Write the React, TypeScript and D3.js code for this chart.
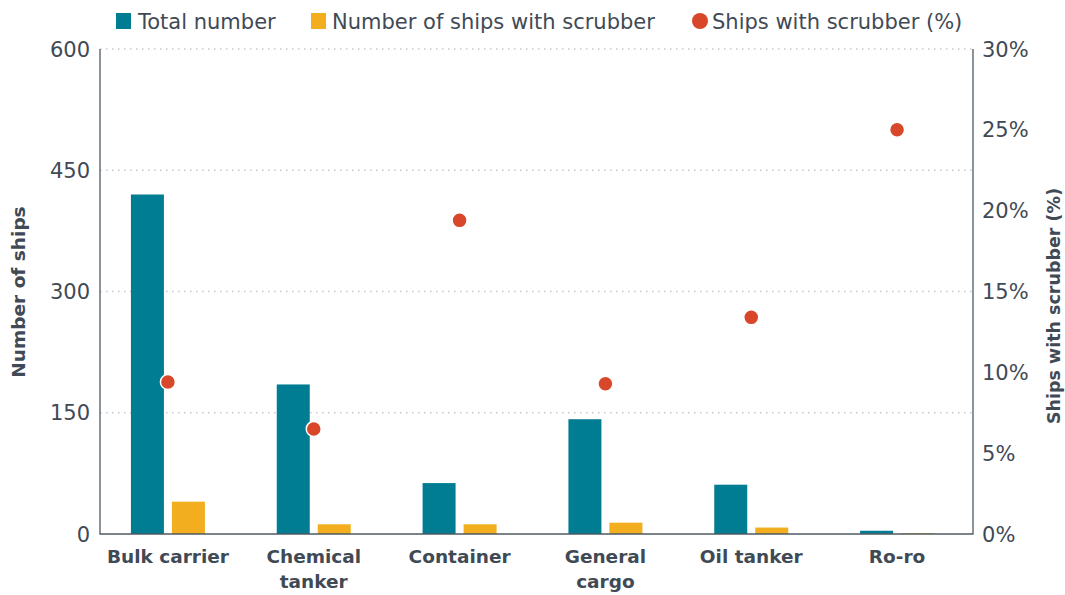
import React from "react";
import * as d3 from "d3";

const categories = [["Bulk carrier"], ["Chemical", "tanker"], ["Container"], ["General", "cargo"], ["Oil tanker"], ["Ro-ro"]];
const totalNumber = [420, 185, 63, 142, 61, 4];
const scrubberNumber = [40, 12, 12, 14, 8, 1];
const scrubberPct = [9.4, 6.5, 19.4, 9.3, 13.4, 25];
const leftTicks = [0, 150, 300, 450, 600];
const rightTicks = [0, 5, 10, 15, 20, 25, 30];

const W = 1065, H = 595;
const plotL = 100, plotR = 973, plotT = 49, plotB = 534;
const TEAL = "#007d93", YELLOW = "#f2ae1e", RED = "#d9472b", TEXT = "#3f4a55", AXIS = "#4f5a64";
const FONT = "'DejaVu Sans', 'Noto Sans', sans-serif";

export default function App() {
  const idx = categories.map((_, i) => String(i));
  const x = d3.scaleBand<string>().domain(idx).range([95, 970]).padding(0);
  const y = d3.scaleLinear().domain([0, 600]).range([plotB, plotT]);
  const y2 = d3.scaleLinear().domain([0, 30]).range([plotB, plotT]);
  const barW = 33, gap = 8;
  return (
    <svg width={W} height={H} style={{ position: "absolute", left: 0, top: 0, fontFamily: FONT }}>
      <rect width={W} height={H} fill="#fff" />
      {leftTicks.filter(t => t > 0).map(t => (
        <line key={t} x1={plotL} x2={plotR} y1={y(t)} y2={y(t)} stroke="#c8c8c8" strokeWidth={1.5} strokeDasharray="1.5 4.5" />
      ))}
      {idx.map((k, i) => {
        const c = (x(k) as number) + x.bandwidth() / 2;
        return (
          <g key={k}>
            <rect x={c - gap / 2 - barW} y={y(totalNumber[i])} width={barW} height={plotB - y(totalNumber[i])} fill={TEAL} />
            <rect x={c + gap / 2} y={y(scrubberNumber[i])} width={barW} height={plotB - y(scrubberNumber[i])} fill={YELLOW} />
          </g>
        );
      })}
      <path d={`M${plotL},${plotT}V${plotB}H${plotR}V${plotT}`} fill="none" stroke={AXIS} strokeWidth={1.3} />
      {idx.map((k, i) => {
        const c = (x(k) as number) + x.bandwidth() / 2;
        return <circle key={k} cx={c} cy={y2(scrubberPct[i])} r={7.5} fill={RED} stroke="#fff" strokeWidth={1.5} />;
      })}
      {leftTicks.map(t => (
        <text key={t} x={90} y={y(t)} dy="0.36em" textAnchor="end" fontSize={21} fill={TEXT}>{t}</text>
      ))}
      {rightTicks.map(t => (
        <text key={t} x={982} y={y2(t)} dy="0.36em" textAnchor="start" fontSize={21} fill={TEXT}>{t}%</text>
      ))}
      {idx.map((k, i) => {
        const c = (x(k) as number) + x.bandwidth() / 2;
        return (
          <text key={k} x={c} y={563} textAnchor="middle" fontSize={18.5} fontWeight="bold" fill={TEXT}>
            {categories[i].map((l, j) => <tspan key={j} x={c} dy={j === 0 ? 0 : 25}>{l}</tspan>)}
          </text>
        );
      })}
      <text transform={`translate(25,292) rotate(-90)`} textAnchor="middle" fontSize={18.5} fontWeight="bold" fill={TEXT}>Number of ships</text>
      <text transform={`translate(1060,306) rotate(-90)`} textAnchor="middle" fontSize={17.5} fontWeight="bold" fill={TEXT}>Ships with scrubber (%)</text>
      <g fontSize={21} fill={TEXT}>
        <rect x={116} y={13} width={15} height={16} fill={TEAL} />
        <text x={138} y={21} dy="0.36em">Total number</text>
        <rect x={311} y={13} width={15} height={16} fill={YELLOW} />
        <text x={332} y={21} dy="0.36em">Number of ships with scrubber</text>
        <circle cx={700} cy={21} r={8} fill={RED} />
        <text x={712} y={21} dy="0.36em">Ships with scrubber (%)</text>
      </g>
    </svg>
  );
}
